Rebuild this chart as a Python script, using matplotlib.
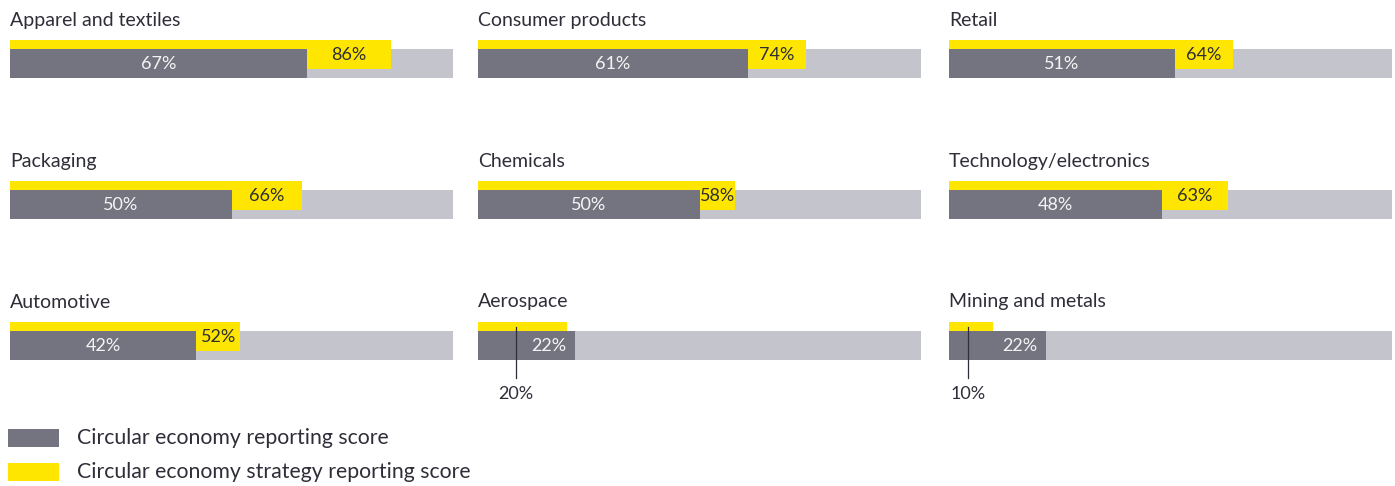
import matplotlib.pyplot as plt
from matplotlib.patches import Rectangle

# sectors, left to right then top to bottom
sectors = ["Apparel and textiles", "Consumer products", "Retail",
           "Packaging", "Chemicals", "Technology/electronics",
           "Automotive", "Aerospace", "Mining and metals"]
reporting = [67, 61, 51, 50, 50, 48, 42, 22, 22]
strategy = [86, 74, 64, 66, 58, 63, 52, 20, 10]

legend_labels = ["Circular economy reporting score",
                 "Circular economy strategy reporting score"]

DARK = "#747480"
LIGHT = "#C4C4CD"
YELLOW = "#FFE600"
TEXT = "#2E2E38"

plt.rcParams['font.family'] = ['Lato', 'DejaVu Sans']

W, H = 1395, 486
fig = plt.figure(figsize=(W / 100, H / 100), dpi=100)

col_x = [10, 478, 949]
row_y = [40, 181, 322]
panel_w, panel_h = 443, 38


def px_box(x, y, w, h):
    return [x / W, 1 - (y + h) / H, w / W, h / H]


for i, name in enumerate(sectors):
    r, c = divmod(i, 3)
    ax = fig.add_axes(px_box(col_x[c], row_y[r], panel_w, panel_h))
    ax.set_xlim(0, 100)
    ax.set_ylim(panel_h, 0)
    ax.axis('off')

    rep, strat = reporting[i], strategy[i]
    ax.barh(9, 100, height=29, align='edge', color=LIGHT, lw=0)
    ax.barh(0, strat, height=29, align='edge', color=YELLOW, lw=0)
    ax.barh(9, rep, height=29, align='edge', color=DARK, lw=0)

    ax.text(0, -20, name, fontsize=14, color=TEXT, va='center', ha='left',
            clip_on=False)

    if rep >= 30:
        ax.text(rep / 2, 24, f"{rep}%", fontsize=13, color="#F4F4F6",
                ha='center', va='center')
    else:
        ax.text(rep - 2, 24, f"{rep}%", fontsize=13, color="#F4F4F6",
                ha='right', va='center')

    if strat > rep:
        ax.text((rep + strat) / 2, 15, f"{strat}%", fontsize=13,
                color=TEXT, ha='center', va='center')
    else:
        lx = strat * 0.43
        ax.plot([lx, lx], [5, 56], color=TEXT, lw=0.9, clip_on=False)
        ax.text(lx, 72, f"{strat}%", fontsize=13, color=TEXT,
                ha='center', va='center', clip_on=False)

# legend
for k, (lab, col) in enumerate(zip(legend_labels, [DARK, YELLOW])):
    y0 = 429 + k * 34
    fig.add_artist(Rectangle((8 / W, 1 - (y0 + 18) / H), 51 / W, 18 / H,
                             transform=fig.transFigure, color=col, lw=0))
    fig.text(77 / W, 1 - (y0 + 9) / H, lab, fontsize=15.3, color=TEXT,
             va='center', ha='left')

plt.savefig("out.png", dpi=100)
